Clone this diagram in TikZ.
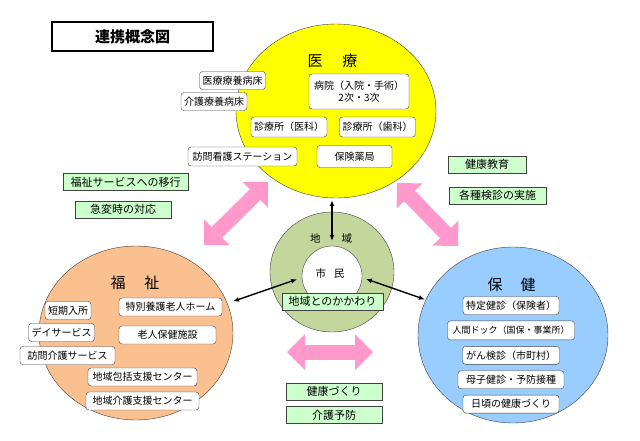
\documentclass[tikz,border=0pt]{standalone}
\usepackage{fontspec}
\setmainfont{Noto Sans CJK JP}
\usepackage{tikz}
\usetikzlibrary{positioning,arrows.meta,shapes.geometric}
\definecolor{cYel}{HTML}{FFFF00}
\definecolor{cOra}{HTML}{FAC090}
\definecolor{cBlu}{HTML}{99CCFF}
\definecolor{cOli}{HTML}{C3D69B}
\definecolor{cGrn}{HTML}{CCFFCC}
\definecolor{cPnk}{HTML}{FF99CC}
\definecolor{cLine}{HTML}{404040}
\tikzset{
  zone/.style={ellipse, draw=cLine, thin, inner sep=0pt},
  fac/.style={draw=cLine, rounded corners=3pt, fill=white, align=center,
              font=\fontsize{10}{12}\selectfont, inner xsep=3pt, inner ysep=0pt,
              minimum height=18pt},
  act/.style={draw=cLine, fill=cGrn, font=\fontsize{11}{12}\selectfont,
               inner sep=0pt, minimum height=17pt},
  head/.style={font=\fontsize{15}{15}\selectfont},
  ar/.style={{Latex[length=6pt,width=5pt]}-{Latex[length=6pt,width=5pt]}, black, line width=1.4pt},
  fat/.style={cPnk, line width=15pt,
              {Triangle[length=18pt,width=36pt,line width=0pt]}-{Triangle[length=18pt,width=36pt,line width=0pt]}}
}
\begin{document}
\begin{tikzpicture}[x=1pt, y=-1pt, node distance=6pt]
\useasboundingbox (0,0) rectangle (640,440);
% circles
\node[zone, fill=cYel, minimum width=200pt, minimum height=174pt] (iryo) at (336,111) {};
\node[zone, fill=cOra, minimum width=194pt, minimum height=174pt] (fukushi) at (136,333) {};
\node[zone, fill=cBlu, minimum width=190pt, minimum height=176pt] (hoken) at (513,335) {};
\node[zone, fill=cOli, minimum width=124pt, minimum height=120pt] (chiiki) at (332,272) {};
\node[zone, fill=white, minimum size=60pt] (shimin) at (332,276) {};
% title
\node[draw, line width=1.2pt, minimum width=161pt, minimum height=29pt,
      font=\fontsize{15}{15}\selectfont\bfseries] (title) at (132.5,36.5) {連携概念図};
% headings
\node[head] (hIryo) at (332.5,61) {医\hspace{20pt}療};
\node[head] (hFuku) at (135,283) {福\hspace{19pt}祉};
\node[head] (hHoken) at (511.5,285) {保\hspace{18pt}健};
\node[font=\fontsize{10.5}{12}\selectfont] (hChiiki) at (331,238) {地\hspace{21pt}域};
\node[font=\fontsize{10.5}{12}\selectfont] (hShimin) at (330,273) {市\hspace{8pt}民};
% 医療
\node[fac] (ryoyo) at (232.5,80.5) {医療療養病床};
\node[fac] (kRyoyo) at (214,101.5) {介護療養病床};
\node[fac, minimum width=100pt, minimum height=35pt] (byoin) at (359,91.5) {病院（入院・手術）\\2次・3次};
\node[fac, minimum height=20pt] (sIka) at (289,127) {診療所（医科）};
\node[fac, minimum height=20pt] (sShika) at (377.5,127) {診療所（歯科）};
\node[fac, minimum width=109pt, minimum height=19pt] (kango) at (242.5,156.5) {訪問看護ステーション};
\node[fac, minimum width=75pt, minimum height=22pt] (yakkyoku) at (354.5,156.5) {保険薬局};
% 福祉
\node[fac] (tanki) at (68,310.5) {短期入所};
\node[fac] (day) at (61.5,332.5) {デイサービス};
\node[fac, minimum width=95pt] (hKaigo) at (67.5,355.5) {訪問介護サービス};
\node[fac, minimum width=103pt] (tokuyo) at (170.5,307) {特別養護老人ホーム};
\node[fac, minimum width=97pt] (roken) at (167.5,335) {老人保健施設};
\node[fac, minimum width=109pt] (houkatsu) at (142.5,377) {地域包括支援センター};
\node[fac, minimum width=113pt] (kShien) at (142.5,401) {地域介護支援センター};
% 保健
\node[fac, minimum width=96pt] (tokutei) at (511,305.5) {特定健診（保険者）};
\node[fac, minimum width=127pt, minimum height=19pt, below=of tokutei,
      font=\fontsize{9}{11}\selectfont] (dock) {人間ドック（国保・事業所）};
\node[fac, minimum width=97pt, below=of dock] (gan) {がん検診（市町村）};
\node[fac, minimum width=106pt, below=of gan] (boshi) {母子健診・予防接種};
\node[fac, minimum width=96pt, below=of boshi] (higoro) {日頃の健康づくり};
% 連携
\node[act, minimum width=125pt] (ikou) at (125.5,182) {福祉サービスへの移行};
\node[act, minimum width=96pt] (kyuhen) at (123,209.5) {急変時の対応};
\node[act, minimum width=78pt] (kyoiku) at (487,164.5) {健康教育};
\node[act, minimum width=97pt] (kenshin) at (497.5,195.5) {各種検診の実施};
\node[act, minimum width=101pt] (kakawari) at (332.5,301.5) {地域とのかかわり};
\node[act, minimum width=96pt] (kenkou) at (334,391.5) {健康づくり};
\node[act, minimum width=96pt, below=of kenkou] (yobou) {介護予防};
% pink arrows
\coordinate (pL1) at (204,245); \coordinate (pL2) at (268,182);
\coordinate (pR1) at (397,183); \coordinate (pR2) at (458,246);
\coordinate (pB1) at (287,352); \coordinate (pB2) at (373,352);
\draw[fat] (pL1) -- (pL2);
\draw[fat] (pR1) -- (pR2);
\draw[fat] (pB1) -- (pB2);
% 市民 arrows
\draw[ar, shorten <=2pt, shorten >=5pt] (iryo.south -| shimin.north) -- (shimin.north);
\draw[ar, shorten <=5pt, shorten >=6pt] (shimin.183) -- (fukushi.18);
\draw[ar, shorten <=4pt, shorten >=1pt] (shimin.-3) -- (hoken.158);
\end{tikzpicture}
\end{document}
